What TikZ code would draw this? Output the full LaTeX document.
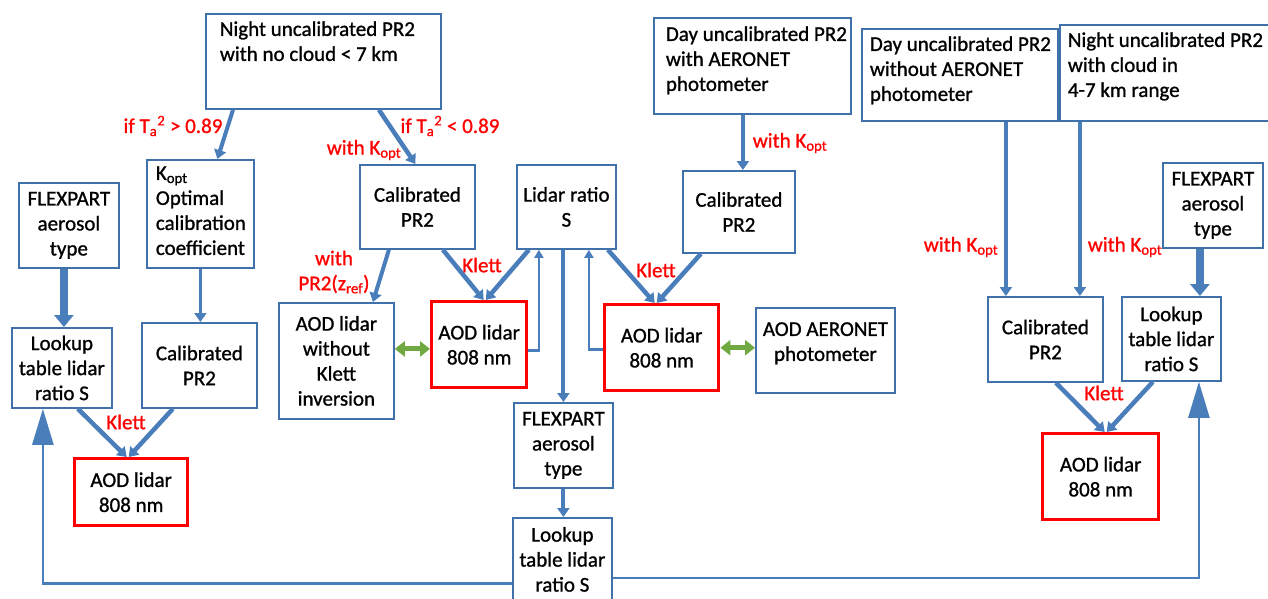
\documentclass[tikz,border=0pt]{standalone}
\usepackage{fontspec}
\setmainfont{Carlito}[FakeBold=1]
\usetikzlibrary{arrows.meta,calc}
\definecolor{boxc}{RGB}{65,113,170}
\definecolor{arc}{RGB}{74,126,187}
\definecolor{grn}{RGB}{112,168,66}
\definecolor{lred}{RGB}{255,0,0}
\newcommand{\fsz}{\fontsize{21pt}{25pt}\selectfont}
\newcommand{\cbx}[3]{\parbox[c][#2][c]{#1}{\centering #3\par}}
\newcommand{\tbx}[5]{\parbox[c][#2][t]{#1}{\raggedright\leftskip=#3\rule{0pt}{#4}#5\par}}
\newcommand{\ctbx}[4]{\parbox[c][#2][t]{#1}{\centering\rule{0pt}{#3}#4\par}}
\tikzset{
  bx/.style={draw=boxc, fill=white, line width=1.8pt, inner sep=0pt, anchor=north west, font=\fsz},
  rbx/.style={draw=lred, fill=white, line width=3.4pt, inner sep=0pt, anchor=north west, font=\fsz},
  lbl/.style={text=lred, font=\fsz, inner sep=0pt},
  ar/.style={draw=arc, line width=#1, -{Triangle[length=9pt,width=12pt]}},
  tar/.style={draw=arc, line width=2.5pt, -{Triangle[length=8pt,width=9pt]}},
  blk/.style={draw=arc, line width=8pt, -{Triangle[length=12pt,width=19pt]}},
  bigar/.style={draw=arc, line width=2.5pt, -{Triangle[length=36pt,width=21pt]}},
  grar/.style={draw=grn, line width=5pt, {Triangle[length=10pt,width=15pt]}-{Triangle[length=10pt,width=15pt]}}
}
\begin{document}
\begin{tikzpicture}[x=1pt,y=-1pt]
\useasboundingbox (0,0) rectangle (1268,598);
% boxes
\node[bx] (night) at (205,13) {\tbx{235pt}{95pt}{14pt}{22pt}{Night uncalibrated PR2\\with no cloud < 7 km}};
\node[bx] (kopt) at (146,159) {\tbx{107pt}{108pt}{9pt}{20pt}{K\textsubscript{opt}\\Optimal\\calibration\\coefficient}};
\node[bx] (flexL) at (18,182) {\cbx{100pt}{85pt}{FLEXPART\\aerosol\\type}};
\node[bx] (lkL) at (11,327) {\cbx{100pt}{80pt}{Lookup\\table lidar\\ratio S}};
\node[bx] (calL) at (141,322) {\cbx{115pt}{85pt}{Calibrated\\PR2}};
\node[rbx] (aodL) at (73,457) {\cbx{113pt}{67pt}{AOD lidar\\808 nm}};
\node[bx] (calM) at (359,164) {\cbx{115pt}{84pt}{Calibrated\\PR2}};
\node[bx] (lidar) at (516,164) {\cbx{99pt}{84pt}{Lidar ratio\\S}};
\node[bx] (aodW) at (278,302) {\cbx{115pt}{116pt}{AOD lidar\\without\\Klett\\inversion}};
\node[rbx] (aodM) at (430,300) {\cbx{95pt}{86pt}{AOD lidar\\808 nm}};
\node[rbx] (aodR) at (603,303) {\cbx{114pt}{86pt}{AOD lidar\\808 nm}};
\node[bx] (aer) at (755,307) {\ctbx{139pt}{85pt}{28pt}{AOD AERONET\\photometer}};
\node[bx] (day) at (653,17) {\tbx{197pt}{96pt}{12pt}{23pt}{Day uncalibrated PR2\\with AERONET\\photometer}};
\node[bx] (cal2) at (682,170) {\cbx{112pt}{82pt}{Calibrated\\PR2}};
\node[bx] (flexM) at (513,402) {\cbx{99pt}{85pt}{FLEXPART\\aerosol\\type}};
\node[bx] (lkM) at (512,517) {\cbx{99pt}{83pt}{Lookup\\table lidar\\ratio S}};
\node[bx] (dayw) at (861,28) {\tbx{196pt}{92pt}{8pt}{22pt}{Day uncalibrated PR2\\without AERONET\\photometer}};
\node[bx] (nightc) at (1059,24) {\tbx{215pt}{96pt}{8pt}{22pt}{Night uncalibrated PR2\\with cloud in\\4-7 km range}};
\node[bx] (flexR) at (1162,162) {\cbx{100pt}{85pt}{FLEXPART\\aerosol\\type}};
\node[bx] (calR) at (987,296) {\cbx{115pt}{85pt}{Calibrated\\PR2}};
\node[bx] (lkR) at (1121,296) {\cbx{99pt}{84pt}{Lookup\\table lidar\\ratio S}};
\node[rbx] (aodRR) at (1041,432) {\cbx{116pt}{86pt}{AOD lidar\\808 nm}};
% connectors
\draw[ar=4pt] ([xshift=28pt]night.south west) -- ([xshift=17pt]kopt.north);
\draw[ar=4.5pt] ([xshift=55.5pt]night.south) -- ([xshift=-2pt]calM.north);
\draw[ar=3pt] (kopt.south) -- (kopt.south |- calL.north);
\draw[blk] ([xshift=2pt]lkL.north |- flexL.south) -- ([xshift=2pt]lkL.north);
\draw[ar=4.5pt] ([xshift=16pt]lkL.south) -- ([xshift=-4.5pt]aodL.north);
\draw[ar=4.5pt] ([xshift=-26.5pt]calL.south) -- ([xshift=-2.5pt]aodL.north);
\draw[ar=4pt] ([xshift=-28.5pt]calM.south) -- ([xshift=36.5pt]aodW.north);
\draw[ar=4.5pt] ([xshift=25.5pt]calM.south) -- ([xshift=4.5pt]aodM.north);
\draw[ar=4.5pt] ([xshift=-37.5pt]lidar.south) -- ([xshift=6.5pt]aodM.north);
\draw[tar] ([yshift=-6pt]aodM.east) -| ([xshift=-27.5pt]lidar.south);
\draw[ar=4pt] (lidar.south -| flexM.north) -- (flexM.north);
\draw[tar] ([yshift=-2pt]aodR.west) -| ([xshift=22.5pt]lidar.south);
\draw[ar=4.5pt] ([xshift=41.5pt]lidar.south) -- ([xshift=-7pt]aodR.north);
\draw[ar=4.5pt] ([xshift=-38pt]cal2.south) -- ([xshift=-5pt]aodR.north);
\draw[ar=4.5pt] ([xshift=4pt]cal2.north |- day.south) -- ([xshift=4pt]cal2.north);
\draw[grar] ([yshift=12pt]aodW.east) -- ([yshift=12pt]aodW.east -| aodM.west);
\draw[grar] (aodR.east) -- (aodR.east -| aer.west);
\draw[ar=4pt] (flexM.south) -- (flexM.south |- lkM.north);
\draw[bigar] ([yshift=-24pt]lkM.west) -| ([xshift=-19pt]lkL.south);
\draw[bigar] ([yshift=-18.5pt]lkM.east) -| ([xshift=27.5pt]lkR.south);
\draw[ar=4pt] ([xshift=-39.5pt]calR.north |- dayw.south) -- ([xshift=-39.5pt]calR.north);
\draw[ar=4pt] ([xshift=34.5pt]calR.north |- nightc.south) -- ([xshift=34.5pt]calR.north);
\draw[blk] ([xshift=28.5pt]lkR.north |- flexR.south) -- ([xshift=28.5pt]lkR.north);
\draw[ar=4.5pt] ([xshift=10.5pt]calR.south) -- ([xshift=4pt]aodRR.north);
\draw[ar=4.5pt] ([xshift=-18.5pt]lkR.south) -- ([xshift=6pt]aodRR.north);
% labels
\node[lbl] (l1) at (173,126) {if T\textsubscript{a}\textsuperscript{2} > 0.89};
\node[lbl] (l2) at (450,126) {if T\textsubscript{a}\textsuperscript{2} < 0.89};
\node[lbl] (l3) at (364,150) {with K\textsubscript{opt}};
\node[lbl, align=center] (l4) at (334,272) {with\\PR2(z\textsubscript{ref})};
\node[lbl] (k1) at (126,422) {Klett};
\node[lbl] (k2) at (482,265) {Klett};
\node[lbl] (k3) at (656,270) {Klett};
\node[lbl] (k4) at (1104,393) {Klett};
\node[lbl] (l5) at (790,143) {with K\textsubscript{opt}};
\node[lbl] (l6) at (961,247) {with K\textsubscript{opt}};
\node[lbl] (l7) at (1125,247) {with K\textsubscript{opt}};
\end{tikzpicture}
\end{document}
